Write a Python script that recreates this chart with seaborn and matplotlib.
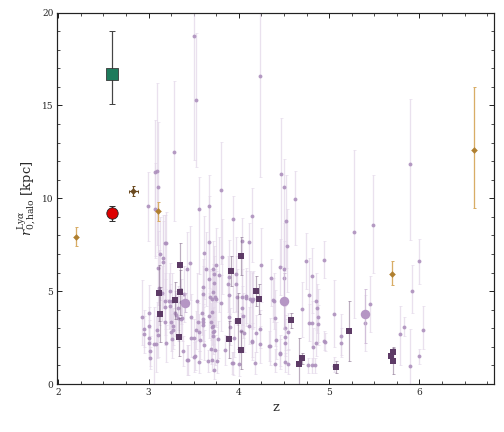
import matplotlib
matplotlib.use("Agg")
import matplotlib.pyplot as plt
import seaborn as sns
import pandas as pd
from matplotlib.ticker import MultipleLocator

# ---------------- data ----------------
# individual LAEs (small light-purple points): z, r0, err_lo, err_hi
pts_z = [2.99, 3.07, 3.09, 3.10, 3.07, 3.28, 3.50, 3.52, 3.56, 3.67, 3.80, 3.94, 4.03, 4.11, 3.19,
         4.23, 4.47, 4.50, 4.62, 5.48, 5.89, 5.99, 5.92, 5.83, 5.78, 6.04, 5.99, 5.89, 5.45, 5.28,
         5.40, 5.13, 5.13, 5.05, 5.05,
         4.52, 4.53, 4.45, 4.36, 4.50, 4.50, 4.39, 4.40, 4.41, 4.34, 4.46, 4.40, 4.51, 4.51, 4.51,
         4.51, 4.54, 4.54, 4.74, 4.78, 4.81, 4.70, 4.85, 4.86, 4.88, 4.78, 4.81, 4.88, 4.94, 4.94,
         4.95, 4.85, 4.82, 4.77, 4.81, 4.84, 4.15, 4.24, 4.12, 4.15, 4.38, 4.23, 4.23, 4.14, 4.45,
         4.18, 4.33,
         2.93, 2.95, 2.95, 3.00, 3.00, 3.00, 3.01, 3.01, 3.06, 3.08, 3.09, 3.10, 3.10, 3.12, 3.13,
         3.16, 3.18, 3.15, 3.18, 3.18, 3.18, 3.19, 3.24, 3.26, 3.26, 3.27, 3.29, 3.33, 3.36, 3.38,
         3.44, 3.46, 3.42, 3.47, 3.47, 3.50, 3.54, 3.56, 3.60, 3.60, 3.59, 3.60, 3.60, 3.61, 3.67,
         3.67, 3.68, 3.70, 3.70, 3.70, 3.71, 3.70, 3.66, 3.75, 3.77, 3.76, 3.78, 3.61, 3.64, 3.75,
         3.80, 3.88, 3.89, 3.97, 3.97, 3.98, 4.05, 4.08, 4.14, 4.14, 4.19, 4.06, 3.95, 3.89, 3.90,
         3.94, 4.00, 4.02, 3.85,
         3.00, 3.16, 3.23, 3.24, 3.25, 3.25, 3.27, 3.30, 3.33, 3.36, 3.39, 3.37, 3.43, 3.51, 3.50,
         3.52, 3.55, 3.56, 3.57,
         3.81, 3.71, 3.72, 3.72, 3.71, 3.74, 3.89, 4.03, 4.08, 4.16, 4.03, 4.11, 3.60, 3.67, 3.69,
         3.71, 3.72, 3.71, 3.69, 3.74, 3.72, 3.92]
pts_r = [9.59, 11.40, 11.49, 10.61, 9.41, 12.49, 18.74, 15.31, 9.42, 9.57, 10.45, 8.90, 7.72, 7.66, 7.57,
         16.57, 11.33, 10.59, 9.98, 8.58, 11.86, 6.61, 5.02, 3.09, 2.71, 2.89, 1.49, 0.99, 4.31, 8.18,
         3.30, 2.58, 2.23, 3.79, 0.97,
         8.76, 7.45, 6.30, 5.71, 6.19, 5.69, 4.49, 3.55, 2.35, 2.05, 1.65, 1.06, 3.03, 2.51, 2.21,
         1.17, 2.82, 1.06, 6.61, 4.77, 5.83, 4.02, 4.49, 4.07, 3.62, 3.30, 3.27, 3.25, 6.69, 2.33,
         2.26, 2.22, 2.01, 1.02, 1.02, 1.02, 9.05, 6.39, 4.56, 4.52, 4.52, 2.96, 2.14, 2.30, 1.63,
         1.13, 2.05,
         3.62, 2.98, 2.68, 3.81, 3.14, 2.46, 1.79, 1.40, 2.15, 2.15, 2.91, 2.64, 6.25, 5.19, 7.00,
         6.59, 7.59, 4.88, 4.47, 4.16, 3.32, 2.19, 4.99, 4.47, 2.41, 3.11, 3.81, 3.54, 3.52, 1.76,
         1.29, 6.52, 6.21, 3.63, 2.48, 1.47, 4.49, 1.18, 5.21, 4.83, 3.84, 3.52, 3.16, 2.12, 7.65,
         5.65, 4.67, 4.59, 3.89, 3.09, 2.80, 1.29, 1.24, 4.59, 2.41, 1.22, 5.89, 7.07, 6.21, 6.39,
         4.38, 5.37, 5.78, 5.94, 5.40, 4.70, 3.68, 4.61, 4.47, 2.28, 2.73, 2.73, 2.48, 3.62, 3.09,
         1.11, 1.06, 2.85, 1.83,
         2.23, 6.80, 4.47, 4.20, 2.78, 3.36, 2.91, 3.72, 4.09, 4.43, 4.85, 3.54, 1.29, 1.53, 2.48,
         2.91, 3.36, 2.78, 2.37,
         6.86, 6.19, 5.92, 5.42, 4.94, 4.67, 4.78, 4.70, 4.76, 4.56, 4.09, 3.14, 3.32, 3.68, 3.36,
         3.14, 2.87, 2.60, 1.87, 1.83, 0.75, 1.15]
pts_lo = [1.9, 4.6, 4.0, 3.5, 2.5, 3.7, 6.7, 3.6, 3.5, 3.5, 4.0, 5.0, 3.0, 3.0, 3.0,
          5.4, 5.0, 4.5, 2.5, 2.6, 4.1, 1.2, 1.2, 0.5, 1.7, 1.0, 0.4, 1.5, 1.5, 4.6,
          1.5, 1.0, 0.8, 1.8, 0.3,
          2.5, 2.5, 1.5, 1.5, 2.0, 1.5, 1.5, 1.5, 1.0, 1.0, 0.7, 0.4, 1.2, 1.0, 1.0,
          0.5, 1.0, 0.5, 1.5, 1.5, 2.0, 1.5, 1.5, 1.3, 1.5, 1.0, 1.2, 1.0, 1.0, 0.5,
          0.5, 0.7, 1.0, 0.4, 0.4, 0.4, 2.5, 2.0, 1.5, 1.5, 1.2, 1.0, 1.0, 1.0, 0.8,
          0.6, 0.8,
          1.5, 1.0, 1.0, 1.5, 1.0, 1.0, 0.8, 0.6, 2.2, 1.5, 1.5, 1.2, 2.0, 2.0, 2.5,
          2.5, 2.5, 1.5, 1.5, 1.5, 1.2, 1.0, 1.5, 1.5, 1.0, 1.0, 1.2, 1.2, 1.0, 0.8,
          0.8, 2.0, 2.0, 1.2, 1.0, 0.8, 1.5, 0.6, 1.5, 1.5, 1.2, 1.2, 1.0, 0.8, 2.5,
          2.0, 1.5, 1.5, 1.2, 1.0, 1.0, 0.6, 0.6, 1.5, 1.0, 0.6, 2.0, 2.5, 2.0, 2.0,
          1.5, 1.5, 2.0, 2.0, 1.5, 1.5, 1.2, 1.5, 1.5, 0.8, 1.0, 1.0, 1.0, 1.2, 1.0,
          0.6, 0.6, 1.0, 0.8,
          0.8, 2.0, 1.5, 1.2, 1.0, 1.0, 1.0, 1.2, 1.2, 1.2, 1.5, 1.2, 0.8, 0.8, 1.0,
          1.0, 1.0, 1.0, 1.0,
          2.0, 1.5, 1.5, 1.5, 1.5, 1.5, 1.5, 1.5, 1.5, 1.5, 1.2, 1.0, 1.0, 1.2, 1.0,
          1.0, 1.0, 1.0, 0.8, 0.8, 0.5, 0.6]
pts_hi = [1.8, 2.8, 4.7, 3.5, 2.5, 3.8, 1.3, 3.6, 1.7, 1.7, 2.6, 1.2, 1.2, 1.0, 1.7,
          3.4, 3.0, 1.5, 1.5, 2.7, 3.5, 1.2, 1.4, 0.5, 1.5, 1.3, 0.4, 2.0, 1.5, 4.4,
          1.5, 1.2, 0.8, 1.8, 0.5,
          2.5, 2.0, 1.5, 1.0, 2.5, 2.0, 1.5, 1.5, 1.0, 1.5, 1.0, 0.8, 1.2, 1.0, 1.5,
          0.5, 1.0, 0.8, 1.5, 2.0, 1.5, 1.5, 1.5, 1.3, 1.5, 1.0, 1.2, 1.0, 1.0, 0.5,
          0.5, 0.7, 1.0, 0.4, 0.4, 0.4, 1.5, 2.0, 1.5, 1.5, 1.2, 1.0, 1.0, 1.0, 0.8,
          0.6, 0.8,
          2.0, 1.0, 1.0, 1.5, 1.0, 1.0, 0.8, 0.6, 2.0, 1.5, 1.5, 1.2, 2.0, 2.0, 2.0,
          2.5, 1.5, 1.5, 1.5, 1.5, 1.2, 1.0, 1.5, 1.5, 1.0, 1.0, 1.2, 1.2, 1.0, 0.8,
          0.8, 2.0, 2.0, 1.2, 1.0, 0.8, 1.5, 0.6, 1.5, 1.5, 1.2, 1.2, 1.0, 0.8, 2.5,
          2.0, 1.5, 1.5, 1.2, 1.0, 1.0, 0.6, 0.6, 1.5, 1.0, 0.6, 2.0, 2.0, 2.0, 2.0,
          1.5, 1.5, 2.0, 2.0, 1.5, 1.5, 1.2, 1.5, 1.5, 0.8, 1.0, 1.0, 1.0, 1.2, 1.0,
          0.6, 0.6, 1.0, 0.8,
          0.8, 2.0, 1.5, 1.2, 1.0, 1.0, 1.0, 1.2, 1.2, 1.2, 1.5, 1.2, 0.8, 0.8, 1.0,
          1.0, 1.0, 1.0, 1.0,
          2.0, 1.5, 1.5, 1.5, 1.5, 1.5, 1.5, 1.5, 1.5, 1.5, 1.2, 1.0, 1.0, 1.2, 1.0,
          1.0, 1.0, 1.0, 0.8, 0.8, 0.5, 0.6]

# stacks / bins (dark purple squares)
sq_z = [3.12, 3.13, 3.35, 3.35, 3.29, 3.34, 3.91, 4.02, 4.19, 4.22, 3.99, 3.89, 4.02,
        4.58, 4.70, 4.67, 5.08, 5.22, 5.68, 5.71, 5.71]
sq_r = [4.92, 3.75, 6.39, 4.94, 4.51, 2.53, 6.10, 6.89, 5.02, 4.56, 3.39, 2.41, 1.83,
        3.43, 1.38, 1.08, 0.92, 2.85, 1.51, 1.71, 1.25]
sq_err = [1.5, 1.5, 1.2, 1.2, 1.0, 1.0, 0.8, 1.0, 0.8, 0.8, 1.5, 1.0, 1.0,
          0.4, 0.3, 1.4, 0.3, 1.6, 0.3, 0.3, 0.7]

# medians (large light purple circles)
big_z = [3.40, 4.50, 5.40]
big_r = [4.38, 4.49, 3.79]
big_lo = [0.5, 1.5, 1.6]
big_hi = [0.5, 1.5, 1.3]

# literature points (gold diamonds)
lit_z = [2.20, 3.10, 5.70, 6.60]
lit_r = [7.90, 9.30, 5.90, 12.60]
lit_lo = [0.45, 0.50, 0.55, 3.10]
lit_hi = [0.55, 0.50, 0.70, 3.40]

# brown diamond
br_z = [2.83]
br_r = [10.40]
br_err = [0.28]
br_zerr = [0.05]

# green square and red circle
gr_z = [2.60]
gr_r = [16.70]
gr_lo = [1.60]
gr_hi = [2.30]
rd_z = [2.60]
rd_r = [9.20]
rd_lo = [0.40]
rd_hi = [0.40]

# ---------------- plot ----------------
sns.set_style("ticks")
plt.rcParams['font.family'] = ['DejaVu Serif']
plt.rcParams['mathtext.fontset'] = 'dejavuserif'

fig = plt.figure(figsize=(7, 6), dpi=72)
ax = fig.add_axes([0.113, 0.111, 0.868, 0.860])

pts = pd.DataFrame({'z': pts_z, 'r': pts_r})
ax.errorbar(pts_z, pts_r, yerr=[pts_lo, pts_hi], fmt='none', ecolor='#e2d5e8',
            elinewidth=1.3, capsize=1.5, capthick=0.8, alpha=0.7, zorder=1)
sns.scatterplot(data=pts, x='z', y='r', ax=ax, color='#ad90bd', s=15, linewidth=0,
                alpha=0.9, zorder=2, legend=False)

sq = pd.DataFrame({'z': sq_z, 'r': sq_r})
ax.errorbar(sq_z, sq_r, yerr=sq_err, fmt='none', ecolor='#7a5f82', elinewidth=1.2,
            capsize=1.5, alpha=0.5, zorder=3)
sns.scatterplot(data=sq, x='z', y='r', ax=ax, color='#5d3b66', marker='s', s=42,
                linewidth=0, zorder=4, legend=False)

big = pd.DataFrame({'z': big_z, 'r': big_r})
ax.errorbar(big_z, big_r, yerr=[big_lo, big_hi], fmt='none', ecolor='#cdb8d6',
            elinewidth=1.2, capsize=1.5, alpha=0.8, zorder=3)
sns.scatterplot(data=big, x='z', y='r', ax=ax, color='#b596c4', s=90, linewidth=0,
                zorder=4, legend=False)

lit = pd.DataFrame({'z': lit_z, 'r': lit_r})
ax.errorbar(lit_z, lit_r, yerr=[lit_lo, lit_hi], fmt='none', ecolor='#d8ad66',
            elinewidth=1.3, capsize=1.5, zorder=5)
sns.scatterplot(data=lit, x='z', y='r', ax=ax, color='#b08030', marker='D', s=22,
                linewidth=0, zorder=6, legend=False)

br = pd.DataFrame({'z': br_z, 'r': br_r})
ax.errorbar(br_z, br_r, yerr=br_err, xerr=br_zerr, fmt='none', ecolor='#6b4a20',
            elinewidth=1.2, capsize=1.5, zorder=5)
sns.scatterplot(data=br, x='z', y='r', ax=ax, color='#6b4a20', marker='D', s=22,
                linewidth=0, zorder=6, legend=False)

gr = pd.DataFrame({'z': gr_z, 'r': gr_r})
ax.errorbar(gr_z, gr_r, yerr=[gr_lo, gr_hi], fmt='none', ecolor='#444444',
            elinewidth=1.2, capsize=3, zorder=5)
sns.scatterplot(data=gr, x='z', y='r', ax=ax, color='#1e7b5c', marker='s', s=130,
                edgecolor='#333333', linewidth=0.8, zorder=6, legend=False)

rd = pd.DataFrame({'z': rd_z, 'r': rd_r})
ax.errorbar(rd_z, rd_r, yerr=[rd_lo, rd_hi], fmt='none', ecolor='#333333',
            elinewidth=1.2, capsize=3, zorder=5)
sns.scatterplot(data=rd, x='z', y='r', ax=ax, color='#dd0000', marker='o', s=130,
                edgecolor='#222222', linewidth=0.8, zorder=6, legend=False)

ax.set_xlim(1.985, 6.83)
ax.set_ylim(0, 20)
ax.xaxis.set_major_locator(MultipleLocator(1))
ax.xaxis.set_minor_locator(MultipleLocator(0.25))
ax.yaxis.set_major_locator(MultipleLocator(5))
ax.yaxis.set_minor_locator(MultipleLocator(1))
ax.tick_params(which='both', direction='in', top=True, right=True, labelsize=9)
ax.tick_params(which='major', length=5, width=1)
ax.tick_params(which='minor', length=3, width=0.8)
for s in ax.spines.values():
    s.set_linewidth(1.2)
    s.set_color('#222222')

ax.set_xlabel('z', fontsize=13)
ax.set_ylabel(r'$r_{0,\mathrm{halo}}^{\mathrm{Ly}\alpha}$ [kpc]', fontsize=13)

fig.savefig('out.png', dpi=72)
